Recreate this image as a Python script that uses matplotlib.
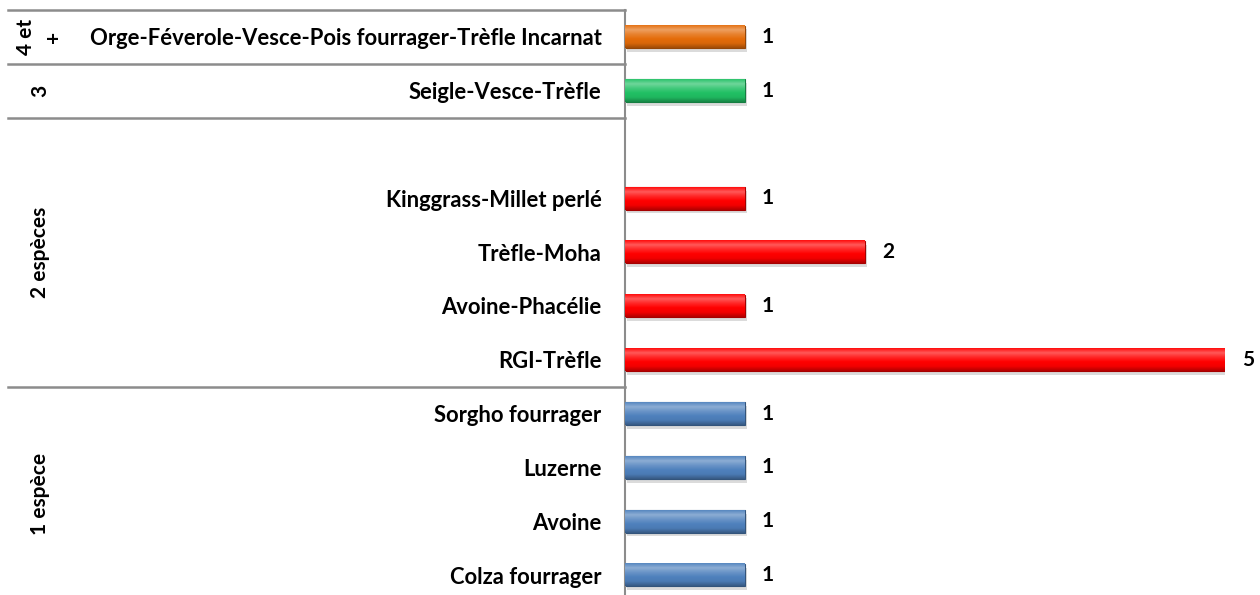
import numpy as np
import matplotlib.pyplot as plt
from matplotlib.colors import LinearSegmentedColormap, to_rgb
from matplotlib.transforms import blended_transform_factory

plt.rcParams['font.family'] = ['Lato', 'DejaVu Sans']

# data, bottom to top ('' is an empty slot in the chart)
categories = ['Colza fourrager', 'Avoine', 'Luzerne', 'Sorgho fourrager',
              'RGI-Trèfle', 'Avoine-Phacélie', 'Trèfle-Moha', 'Kinggrass-Millet perlé', '',
              'Seigle-Vesce-Trèfle',
              'Orge-Féverole-Vesce-Pois fourrager-Trèfle Incarnat']
values = [1, 1, 1, 1, 5, 1, 2, 1, None, 1, 1]
groups = ['1 espèce'] * 4 + ['2 espèces'] * 5 + ['3'] + ['4 et\n+']
group_names = ['1 espèce', '2 espèces', '3', '4 et\n+']
group_colors = {'1 espèce': '#4F81BD', '2 espèces': '#FF0000',
                '3': '#21C064', '4 et\n+': '#E46C0A'}


def shade(c, f):
    r = np.array(to_rgb(c))
    if f > 0:
        return tuple(r + (1 - r) * f)
    return tuple(r * (1 + f))


fig = plt.figure(figsize=(12.6, 5.95), dpi=100)
ax = fig.add_axes([625 / 1260, 1 - 602 / 595, 600 / 1260, 592 / 595])

h = 0.42
y = np.arange(len(categories))
for i, (v, g) in enumerate(zip(values, groups)):
    if v is None:
        continue
    c = group_colors[g]
    # shadow
    ax.barh(i - 0.07, v, height=h, left=0.02, color='#999999', alpha=0.35, zorder=1)
    ax.barh(i, v, height=h, color=c, edgecolor=shade(c, -0.35), linewidth=0.8, zorder=2)
    cmap = LinearSegmentedColormap.from_list(
        'b', [shade(c, -0.3), shade(c, -0.05), c, shade(c, 0.15), shade(c, 0.35), shade(c, 0.05)])
    grad = np.linspace(0, 1, 64).reshape(-1, 1)
    ax.imshow(grad, cmap=cmap, aspect='auto', origin='lower',
              extent=(0, v, i - h / 2, i + h / 2), zorder=3)
    ax.text(v + 0.14, i, str(v), va='center', ha='left', fontsize=15,
            fontweight='bold', zorder=4)

ax.set_xlim(0, 5)
ax.set_ylim(-0.5, len(categories) - 0.5)
ax.set_aspect('auto')
ax.set_yticks(y)
ax.set_yticklabels(categories, fontsize=15.8, fontweight='bold')
ax.tick_params(axis='y', length=0, pad=17)
ax.set_xticks([])
for s in ['top', 'right', 'bottom']:
    ax.spines[s].set_visible(False)
ax.spines['left'].set_color('#8c8c8c')
ax.spines['left'].set_linewidth(1.5)

# group separators and labels
tr = blended_transform_factory(fig.transFigure, ax.transData)
for yl in [10.5, 9.5, 8.5, 3.5]:
    ax.plot([8 / 1260, 625 / 1260], [yl, yl], color='#8c8c8c', lw=1.8,
            transform=tr, clip_on=False)
for name in group_names:
    idx = [i for i, g in enumerate(groups) if g == name]
    yc = (min(idx) + max(idx)) / 2
    ax.text(40 / 1260, yc, name, rotation=90, ha='center', va='center',
            fontsize=15, fontweight='bold', transform=tr, linespacing=1.45)

fig.savefig('out.png', dpi=100)
